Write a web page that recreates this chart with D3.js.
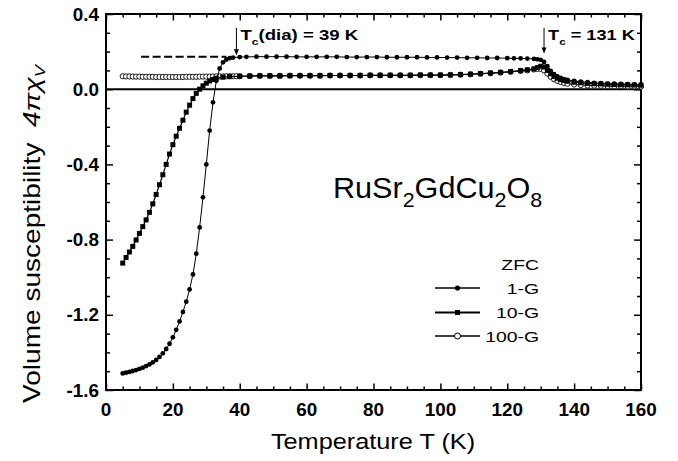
<!DOCTYPE html>
<html lang="en">
<head>
<meta charset="UTF-8">
<title>RuSr2GdCu2O8 ZFC susceptibility</title>
<script src="https://d3js.org/d3.v7.min.js"></script>
<style>
  body { margin: 0; background: #fff; }
  svg { display: block; font-family: "Liberation Sans", Arial, sans-serif; }
</style>
</head>
<body>
<div id="chart"></div>
<script>
// ZFC curves, values (T in K, 4*pi*chi_V)
const t1G = [5,6,7,8,9,10,11,12,13,14,15,16,17,18,19,20,21,22,23,24,25,26,27,28,29,30,31,32,33,34,35,36,37,38,
  40,42,45,48,51,54,57,60,63,66,69,72,75,78,81,84,87,90,93,96,99,102,105,108,111,114,117,120,122,124,126,128,129,130,
  131,132,133,134,135,136,137,138,140,142,144,146,148,150,152,154,156,158,160];
const chi1G = [-1.512,-1.508,-1.504,-1.499,-1.494,-1.488,-1.481,-1.473,-1.464,-1.453,-1.44,-1.424,-1.405,-1.382,-1.354,-1.32,-1.28,-1.235,-1.185,-1.13,-1.065,-0.985,-0.875,-0.735,-0.575,-0.4,-0.22,-0.07,0.045,0.11,0.143,0.158,0.165,0.168,
  0.171,0.172,0.173,0.173,0.173,0.173,0.172,0.172,0.172,0.172,0.172,0.171,0.171,0.171,0.171,0.17,0.17,0.17,0.17,0.169,0.169,0.168,0.168,0.167,0.167,0.166,0.166,0.165,0.164,0.164,0.163,0.161,0.159,0.156,
  0.145,0.122,0.098,0.08,0.068,0.06,0.054,0.05,0.044,0.04,0.037,0.034,0.032,0.03,0.029,0.028,0.027,0.026,0.025];

const t10G = [5,6,7,8,9,10,11,12,13,14,15,16,17,18,19,20,21,22,23,24,25,26,27,28,29,30,31,32,33,35,37,40,
  43,46,49,52,55,58,61,64,67,70,73,76,79,82,85,88,91,94,97,100,103,106,109,112,115,118,121,124,126,128,129,130,
  131,132,133,134,135,136,137,138,140,142,144,146,148,150,152,154,156,158,160];
const chi10G = [-0.925,-0.895,-0.866,-0.836,-0.802,-0.767,-0.731,-0.695,-0.655,-0.61,-0.56,-0.508,-0.455,-0.4,-0.345,-0.295,-0.25,-0.208,-0.165,-0.122,-0.085,-0.05,-0.022,0.0,0.018,0.032,0.044,0.052,0.058,0.064,0.067,0.069,
  0.07,0.071,0.071,0.071,0.072,0.072,0.072,0.072,0.073,0.073,0.073,0.073,0.074,0.074,0.074,0.074,0.074,0.075,0.075,0.075,0.076,0.078,0.08,0.083,0.086,0.09,0.094,0.099,0.103,0.108,0.115,0.122,
  0.118,0.1,0.082,0.068,0.058,0.051,0.046,0.042,0.037,0.034,0.031,0.029,0.028,0.026,0.025,0.024,0.023,0.022,0.021];

const t100G = [5,6,7,8,9,10,11,12,13,14,15,16,17,18,19,20,21,22,23,24,25,26,27,28,29,30,31,32,33,34,35,36,37,38,39,40,
  43,46,49,52,55,58,61,64,67,70,73,76,79,82,85,88,91,94,97,100,103,106,109,112,115,118,121,124,126,128,129,130,
  131,132,133,134,135,136,137,138,140,142,144,146,148,150,152,154,156,158,160];
const chi100G = [0.069,0.068,0.068,0.067,0.067,0.067,0.066,0.066,0.066,0.066,0.065,0.065,0.065,0.065,0.065,0.065,0.065,0.065,0.065,0.066,0.066,0.066,0.066,0.067,0.067,0.067,0.067,0.068,0.068,0.068,0.068,0.069,0.069,0.069,0.069,0.069,
  0.07,0.071,0.071,0.071,0.072,0.072,0.072,0.072,0.073,0.073,0.073,0.073,0.074,0.074,0.074,0.074,0.074,0.075,0.075,0.075,0.076,0.077,0.079,0.082,0.085,0.088,0.092,0.097,0.1,0.105,0.108,0.108,
  0.1,0.083,0.066,0.053,0.044,0.038,0.033,0.029,0.025,0.022,0.02,0.019,0.018,0.017,0.016,0.016,0.015,0.015,0.014];

const seriesNames = ["1-G", "10-G", "100-G"];
const xMajor = [0, 20, 40, 60, 80, 100, 120, 140, 160];
const xMinor = [5,10,15,25,30,35,45,50,55,65,70,75,85,90,95,105,110,115,125,130,135,145,150,155];
const yMajor = [0.4, 0.0, -0.4, -0.8, -1.2, -1.6];
const yMinor = [0.3,0.2,0.1,-0.1,-0.2,-0.3,-0.5,-0.6,-0.7,-0.9,-1.0,-1.1,-1.3,-1.4,-1.5];

// annotations: extrapolated plateau and the two transition arrows
const dashT = [10.5, 36];
const dashChi = 0.172;
const arrowT = [39, 131];
const arrowTop = 0.326;
const arrowTip = [0.18, 0.19];

const width = 678, height = 461;
const svg = d3.select("#chart").append("svg")
  .attr("width", width).attr("height", height);

const x = d3.scaleLinear().domain([0, 160]).range([106, 641]);
const y = d3.scaleLinear().domain([-1.6, 0.4]).range([390, 14]);

// stretched text helper
function label(px, py, sx, rot) {
  const g = svg.append("g")
    .attr("transform", `translate(${px},${py})` + (rot ? ` rotate(${rot})` : "") + ` scale(${sx},1)`);
  return g.append("text");
}

// axes with inward ticks
function addAxis(axisFn, scale, vals, size, tx, ty, labels) {
  const a = axisFn(scale).tickValues(vals).tickSize(-size).tickPadding(8);
  if (!labels) a.tickFormat("");
  const g = svg.append("g").attr("transform", `translate(${tx},${ty})`).call(a);
  g.select(".domain").remove();
  g.selectAll(".tick line").attr("stroke", "#000").attr("stroke-width", 1.5);
  return g;
}
addAxis(d3.axisBottom, x, xMinor, 3.5, 0, 390, false);
addAxis(d3.axisBottom, x, xMajor, 6.5, 0, 390, false);
addAxis(d3.axisTop, x, xMinor, 3.5, 0, 14, false);
addAxis(d3.axisTop, x, xMajor, 6.5, 0, 14, false);
addAxis(d3.axisLeft, y, yMinor, 4, 106, 0, false);
addAxis(d3.axisLeft, y, yMajor, 7, 106, 0, false);
addAxis(d3.axisRight, y, yMinor, 4, 641, 0, false);
addAxis(d3.axisRight, y, yMajor, 7, 641, 0, false);

// tick labels
xMajor.forEach(v => {
  label(x(v), 416, 1.05).attr("text-anchor", "middle")
    .attr("font-size", 18).attr("font-weight", "bold").text(v);
});
yMajor.forEach(v => {
  label(99, y(v) + 6.5, 1.05).attr("text-anchor", "end")
    .attr("font-size", 18).attr("font-weight", "bold").text(v.toFixed(1));
});

// frame
svg.append("rect")
  .attr("x", x(0)).attr("y", y(0.4))
  .attr("width", x(160) - x(0)).attr("height", y(-1.6) - y(0.4))
  .attr("fill", "none").attr("stroke", "#000").attr("stroke-width", 2);

// zero line
svg.append("line")
  .attr("x1", x(0)).attr("x2", x(160)).attr("y1", y(0)).attr("y2", y(0))
  .attr("stroke", "#000").attr("stroke-width", 2);

// dashed plateau extrapolation
svg.append("line")
  .attr("x1", x(dashT[0])).attr("x2", x(dashT[1]))
  .attr("y1", y(dashChi)).attr("y2", y(dashChi))
  .attr("stroke", "#000").attr("stroke-width", 2).attr("stroke-dasharray", "8,3.5");

const line = d3.line().x(d => x(d[0])).y(d => y(d[1]));
const zip = (a, b) => a.map((v, i) => [v, b[i]]);

const data100 = zip(t100G, chi100G);
const data10 = zip(t10G, chi10G);
const data1 = zip(t1G, chi1G);

// 100-G: open circles
svg.append("path").datum(data100).attr("d", line)
  .attr("fill", "none").attr("stroke", "#000").attr("stroke-width", 1);
svg.append("g").selectAll("circle").data(data100).join("circle")
  .attr("cx", d => x(d[0])).attr("cy", d => y(d[1])).attr("r", 2.6)
  .attr("fill", "#fff").attr("stroke", "#000").attr("stroke-width", 0.9);

// 10-G: filled squares
svg.append("path").datum(data10).attr("d", line)
  .attr("fill", "none").attr("stroke", "#000").attr("stroke-width", 1.2);
svg.append("g").selectAll("rect").data(data10).join("rect")
  .attr("x", d => x(d[0]) - 2.5).attr("y", d => y(d[1]) - 2.5)
  .attr("width", 5).attr("height", 5).attr("fill", "#000");

// 1-G: filled circles
svg.append("path").datum(data1).attr("d", line)
  .attr("fill", "none").attr("stroke", "#000").attr("stroke-width", 1);
svg.append("g").selectAll("circle").data(data1).join("circle")
  .attr("cx", d => x(d[0])).attr("cy", d => y(d[1])).attr("r", 2.4)
  .attr("fill", "#000");

// arrows
arrowT.forEach((t, i) => {
  const ax = x(t);
  svg.append("line")
    .attr("x1", ax).attr("x2", ax).attr("y1", y(arrowTop)).attr("y2", y(arrowTip[i]) - 4)
    .attr("stroke", "#000").attr("stroke-width", 1);
  const ty = y(arrowTip[i]);
  svg.append("path")
    .attr("d", `M${ax - 2.5},${ty - 6}L${ax + 2.5},${ty - 6}L${ax},${ty}Z`)
    .attr("fill", "#000");
});

// annotation texts
let tt = label(x(arrowT[0]) + 4, 39.5, 1.33).attr("font-size", 14).attr("font-weight", "bold");
tt.append("tspan").text("T");
tt.append("tspan").attr("font-size", 9).attr("dy", 5).text("c");
tt.append("tspan").attr("dy", -5).text("(dia) = 39 K");

tt = label(x(arrowT[1]) + 4, 39.5, 1.3).attr("font-size", 14).attr("font-weight", "bold");
tt.append("tspan").text("T");
tt.append("tspan").attr("font-size", 9).attr("dy", 5).text("c");
tt.append("tspan").attr("dy", -5).text(" = 131 K");

// compound formula
const f = label(333, 198, 1.02).attr("font-size", 30);
[["Ru", 0], ["Sr", 0], ["2", 1], ["GdCu", 0], ["2", 1], ["O", 0], ["8", 1]].reduce((prev, [s, sub]) => {
  const ts = f.append("tspan").text(s);
  if (sub) ts.attr("font-size", 21).attr("dy", 9 - prev);
  else ts.attr("dy", -prev);
  return sub ? 9 : 0;
}, 0);

// legend
label(539, 270, 1.25).attr("text-anchor", "end").attr("font-size", 15.5).text("ZFC");
const legY = [288, 312.5, 336];
seriesNames.forEach((name, i) => {
  const ly = legY[i];
  svg.append("line").attr("x1", 435).attr("x2", 480).attr("y1", ly).attr("y2", ly)
    .attr("stroke", "#000").attr("stroke-width", i === 1 ? 2 : 1.3);
  if (i === 0) svg.append("circle").attr("cx", 457.5).attr("cy", ly).attr("r", 2.6).attr("fill", "#000");
  if (i === 1) svg.append("rect").attr("x", 455).attr("y", ly - 2.5).attr("width", 5).attr("height", 5).attr("fill", "#000");
  if (i === 2) svg.append("circle").attr("cx", 457.5).attr("cy", ly).attr("r", 3)
    .attr("fill", "#fff").attr("stroke", "#000").attr("stroke-width", 1);
  label(539, ly + 5.5, 1.25).attr("text-anchor", "end").attr("font-size", 15.5).text(name);
});

// axis titles
label(373, 449, 1.15).attr("text-anchor", "middle").attr("font-size", 22).text("Temperature T (K)");

const yt = label(40, 234, 1.22, -90).attr("text-anchor", "middle").attr("font-size", 23);
yt.append("tspan").text("Volume susceptibility\u00a0\u00a0");
yt.append("tspan").attr("font-style", "italic").text("4\u03c0\u03c7");
yt.append("tspan").attr("font-style", "italic").attr("font-size", 15).attr("dy", 5).text("V");
</script>
</body>
</html>
